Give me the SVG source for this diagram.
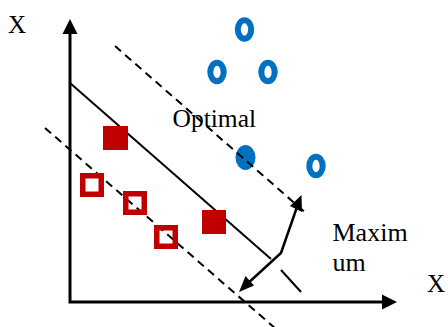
<svg xmlns="http://www.w3.org/2000/svg" width="448" height="327" viewBox="0 0 448 327">
<style>
text{font-family:'Liberation Serif','Times New Roman','DejaVu Serif',serif;fill:#000}
.ax{stroke:#000;stroke-width:3;fill:none}
.sol{stroke:#000;stroke-width:2;fill:none}
.dash{stroke:#000;stroke-width:2;fill:none;stroke-dasharray:8 5.5}
.fr{fill:#C00000}
.hr{fill:none;stroke:#C00000;stroke-width:5.5}
.hb{fill:none;stroke:#0070C0;stroke-width:6}
.fb{fill:#0070C0}
.arr{stroke:#000;stroke-width:2.5;fill:none}
</style>
<rect width="448" height="327" fill="#fff"/>
<g id="connectors">
  <g id="axes">
    <polyline class="ax" points="70,30 70,302 386,302"/>
    <polygon points="70,19 62.5,34 77.5,34" fill="#000"/>
    <polygon points="397,302 382,294.5 382,309.5" fill="#000"/>
  </g>
  <g id="hyperplane">
    <line class="sol" x1="70" y1="83" x2="271" y2="259"/>
    <line class="sol" x1="281" y1="270" x2="301" y2="292"/>
  </g>
  <line id="margin-lower" class="dash" x1="45" y1="128" x2="276" y2="329"/>
</g>
<g id="class-red">
  <rect class="fr" x="103" y="126" width="25" height="24"/>
  <rect class="fr" x="202" y="210" width="24" height="24"/>
  <rect class="hr" x="82.75" y="175.75" width="18.5" height="18.5"/>
  <rect class="hr" x="125.75" y="193.75" width="18.5" height="18.5"/>
  <rect class="hr" x="156.75" y="227.75" width="18.5" height="18.5"/>
</g>
<g id="class-blue">
  <ellipse class="hb" cx="244.5" cy="29.5" rx="6.7" ry="9.3"/>
  <ellipse class="hb" cx="217" cy="72" rx="6.7" ry="9.3"/>
  <ellipse class="hb" cx="268" cy="72" rx="6.7" ry="9.3"/>
  <ellipse class="hb" cx="316" cy="166" rx="6.7" ry="9.3"/>
  <ellipse class="fb" cx="245.5" cy="157.5" rx="10" ry="12.5"/>
</g>
<g id="labels" font-family="Liberation Serif, serif">
  <text x="8" y="33" font-size="25">X</text>
  <text x="427" y="292" font-size="25">X</text>
  <text x="172.5" y="126.5" font-size="25.5">Optimal</text>
  <text x="332.5" y="241" font-size="26">Maxim</text>
  <text x="332.5" y="271" font-size="26">um</text>
</g>
<g id="connectors-top">
  <line id="margin-upper" class="dash" x1="115" y1="46" x2="307" y2="214"/>
  <g id="margin-arrow">
    <polyline class="arr" points="297,207 281,253 246,285"/>
    <polygon points="301.5,195 302,212 290,206" fill="#000"/>
    <polygon points="239,292 245.5,276 254,285.5" fill="#000"/>
  </g>
</g>
</svg>
